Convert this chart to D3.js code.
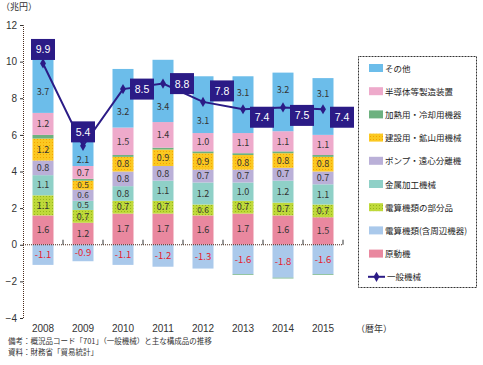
<!DOCTYPE html>
<html>
<head>
<meta charset="utf-8">
<script src="https://cdn.jsdelivr.net/npm/d3@7"></script>
<style>
body { margin: 0; background: #fff; }
svg { display: block; font-family: "Noto Sans CJK JP", "Noto Sans", sans-serif; }
</style>
</head>
<body>
<svg id="chart" width="483" height="365"></svg>
<script>
const years = ['2008', '2009', '2010', '2011', '2012', '2013', '2014', '2015'];
// stacked from the bottom up
const gendoki   = [1.6, 1.2, 1.7, 1.7, 1.6, 1.7, 1.6, 1.5];   // 原動機
const bubunhin  = [1.1, 0.7, 0.7, 0.7, 0.6, 0.7, 0.7, 0.7];   // 電算機類の部分品
const kinzoku   = [1.1, 0.5, 0.8, 1.1, 1.2, 1.0, 1.2, 1.1];   // 金属加工機械
const pump      = [0.8, 0.6, 0.8, 0.8, 0.7, 0.7, 0.7, 0.7];   // ポンプ・遠心分離機
const kensetsu  = [1.2, 0.5, 0.8, 0.9, 0.9, 0.8, 0.8, 0.8];   // 建設用・鉱山用機械
const kanetsu   = [0.2, 0.1, 0.1, 0.1, 0.1, 0.1, 0.1, 0.1];   // 加熱用・冷却用機器
const handotai  = [1.2, 0.7, 1.5, 1.4, 1.0, 1.1, 1.1, 1.1];   // 半導体等製造装置
const sonota    = [3.7, 2.1, 3.2, 3.4, 3.1, 3.1, 3.2, 3.1];   // その他
const densanki  = [-1.1, -0.9, -1.1, -1.2, -1.3, -1.6, -1.8, -1.6]; // 電算機類(含周辺機器)
const kanetsuNeg = [0, 0, 0, 0, 0, -0.04, -0.04, -0.04];     // 加熱用 (negative part)
const ippan     = [9.9, 5.4, 8.5, 8.8, 7.8, 7.4, 7.5, 7.4];   // 一般機械
const yTicks = [-4, -2, 0, 2, 4, 6, 8, 10, 12];
const labelSide = ['up', 'up', 'right', 'right', 'right', 'right', 'right', 'right'];

const series = [
  {name: '原動機', vals: gendoki, fill: '#e9889f', show: true},
  {name: '電算機類の部分品', vals: bubunhin, fill: 'url(#dotGreen)', show: true},
  {name: '金属加工機械', vals: kinzoku, fill: '#8fd0c7', show: true},
  {name: 'ポンプ・遠心分離機', vals: pump, fill: '#bab0d8', show: true},
  {name: '建設用・鉱山用機械', vals: kensetsu, fill: 'url(#dotOrange)', show: true},
  {name: '加熱用・冷却用機器', vals: kanetsu, fill: '#6db17f', show: false},
  {name: '半導体等製造装置', vals: handotai, fill: '#eeaacb', show: true},
  {name: 'その他', vals: sonota, fill: '#6cbdea', show: true}
];

const svg = d3.select('#chart');
const defs = svg.append('defs');
function dots(id, bg, dot) {
  const p = defs.append('pattern').attr('id', id).attr('width', 3).attr('height', 3)
    .attr('patternUnits', 'userSpaceOnUse');
  p.append('rect').attr('width', 3).attr('height', 3).attr('fill', bg);
  p.append('rect').attr('x', 1).attr('y', 1).attr('width', 1).attr('height', 1).attr('fill', dot);
}
dots('dotGreen', '#bfd93a', '#95b51c');
dots('dotOrange', '#fbc821', '#f5a300');

const x = d3.scaleBand().domain(years).range([23, 343]);
const y = d3.scaleLinear().domain([-4, 12]).range([318, 25]);
const barW = 21;

// stacked bars
const stackG = svg.append('g');
years.forEach((yr, i) => {
  let base = 0;
  const cx = x(yr) + x.bandwidth() / 2;
  series.forEach(s => {
    const v = s.vals[i];
    stackG.append('rect')
      .attr('x', cx - barW / 2).attr('width', barW)
      .attr('y', y(base + v)).attr('height', y(base) - y(base + v))
      .attr('fill', s.fill);
    if (s.show) {
      let mid = base + v / 2;
      const top = base + v, lv = ippan[i];
      // keep the label off the line: use the bigger part of the segment
      if (lv > base && lv < top) {
        mid = (top - lv > lv - base) ? (top + lv) / 2 : (lv + base) / 2 - 0.2;
      }
      const fs = v <= 0.6 ? 8.2 : 9;
      stackG.append('text')
        .attr('x', cx).attr('y', y(mid) + fs * 0.36)
        .attr('text-anchor', 'middle').attr('font-size', fs).attr('fill', '#333')
        .text(v.toFixed(1));
    }
    base += v;
  });
  // negative part
  stackG.append('rect')
    .attr('x', cx - barW / 2).attr('width', barW)
    .attr('y', y(0)).attr('height', y(densanki[i]) - y(0))
    .attr('fill', '#aac9eb');
  if (kanetsuNeg[i] < 0) {
    stackG.append('rect')
      .attr('x', cx - barW / 2).attr('width', barW)
      .attr('y', y(densanki[i])).attr('height', y(densanki[i] + kanetsuNeg[i]) - y(densanki[i]))
      .attr('fill', '#6db17f');
  }
  stackG.append('text')
    .attr('x', cx).attr('y', y(densanki[i] / 2) + 3.5)
    .attr('text-anchor', 'middle').attr('font-size', 9.5).attr('fill', '#e5202e')
    .text(densanki[i].toFixed(1));
});

// y axis
const yAxis = svg.append('g').attr('transform', 'translate(23,0)')
  .call(d3.axisLeft(y).tickValues(yTicks).tickSize(3).tickFormat(d3.format('d')));
yAxis.select('.domain').attr('stroke', '#4a2a1a').attr('stroke-dasharray', '1,1');
yAxis.selectAll('.tick line').attr('stroke', '#333');
yAxis.selectAll('.tick text').attr('font-size', 10).attr('fill', '#333').attr('x', -6)
  .attr('font-family', 'Liberation Sans, sans-serif');

// zero line and category ticks
svg.append('line').attr('x1', 23).attr('x2', 343).attr('y1', y(0)).attr('y2', y(0))
  .attr('stroke', '#4a2a1a').attr('stroke-dasharray', '1,1');
years.forEach(yr => {
  svg.append('line').attr('x1', x(yr) + x.bandwidth()).attr('x2', x(yr) + x.bandwidth())
    .attr('y1', y(0)).attr('y2', y(0) - 5).attr('stroke', '#333');
  svg.append('text').attr('x', x(yr) + x.bandwidth() / 2).attr('y', 332)
    .attr('text-anchor', 'middle').attr('font-size', 10).attr('fill', '#333')
    .attr('font-family', 'Liberation Sans, sans-serif')
    .text(yr);
});
svg.append('text').attr('x', 356).attr('y', 332).attr('font-size', 9).attr('fill', '#333').text('（暦年）');
svg.append('text').attr('x', 1).attr('y', 10).attr('font-size', 9).attr('fill', '#333').text('（兆円）');

// line
const navy = '#2b1b86';
const line = d3.line().x((d, i) => x(years[i]) + x.bandwidth() / 2).y(d => y(d));
svg.append('path').attr('d', line(ippan)).attr('fill', 'none').attr('stroke', navy).attr('stroke-width', 2);
const sym = d3.symbol().type(d3.symbolDiamond).size(30);
ippan.forEach((v, i) => {
  const cx = x(years[i]) + x.bandwidth() / 2, cy = y(v);
  svg.append('path').attr('d', sym()).attr('transform', `translate(${cx},${cy})`).attr('fill', navy);
  let bx, by;
  if (labelSide[i] === 'up') { bx = cx; by = cy - 14; }
  else { bx = cx + 19; by = cy + (i >= 4 ? 8 : 0); }
  if (i === 4) by = cy - 11;
  svg.append('rect').attr('x', bx - 12).attr('y', by - 10.5).attr('width', 24).attr('height', 21).attr('fill', navy);
  svg.append('text').attr('x', bx).attr('y', by + 4).attr('text-anchor', 'middle')
    .attr('font-size', 10.5).attr('fill', '#fff').attr('font-family', 'Liberation Sans, sans-serif')
    .text(v.toFixed(1));
});

// legend
const lg = svg.append('g');
lg.append('rect').attr('x', 358.5).attr('y', 56.5).attr('width', 118).attr('height', 231)
  .attr('fill', '#fff').attr('stroke', '#333').attr('stroke-dasharray', '1,0.5');
const legendItems = series.slice().reverse().map(s => ({name: s.name, fill: s.fill}));
legendItems.splice(legendItems.length - 1, 0, {name: '電算機類(含周辺機器)', fill: '#aac9eb'});
legendItems.forEach((it, k) => {
  const ly = 68 + k * 23.2;
  lg.append('rect').attr('x', 369).attr('y', ly - 4).attr('width', 14).attr('height', 8).attr('fill', it.fill);
  lg.append('text').attr('x', 385).attr('y', ly + 3.5).attr('font-size', 8.5).attr('fill', '#222').text(it.name);
});
const ly = 68 + legendItems.length * 23.2;
lg.append('line').attr('x1', 368).attr('x2', 385).attr('y1', ly).attr('y2', ly).attr('stroke', navy).attr('stroke-width', 2);
lg.append('path').attr('d', sym()).attr('transform', `translate(376.5,${ly})`).attr('fill', navy);
lg.append('text').attr('x', 387).attr('y', ly + 3.5).attr('font-size', 8.5).attr('fill', '#222').text('一般機械');

// notes
svg.append('text').attr('x', 8).attr('y', 344).attr('font-size', 7.5).attr('fill', '#333')
  .text('備考：概況品コード「701」（一般機械）と主な構成品の推移');
svg.append('text').attr('x', 8).attr('y', 355).attr('font-size', 7.5).attr('fill', '#333')
  .text('資料：財務省「貿易統計」');
</script>
</body>
</html>
